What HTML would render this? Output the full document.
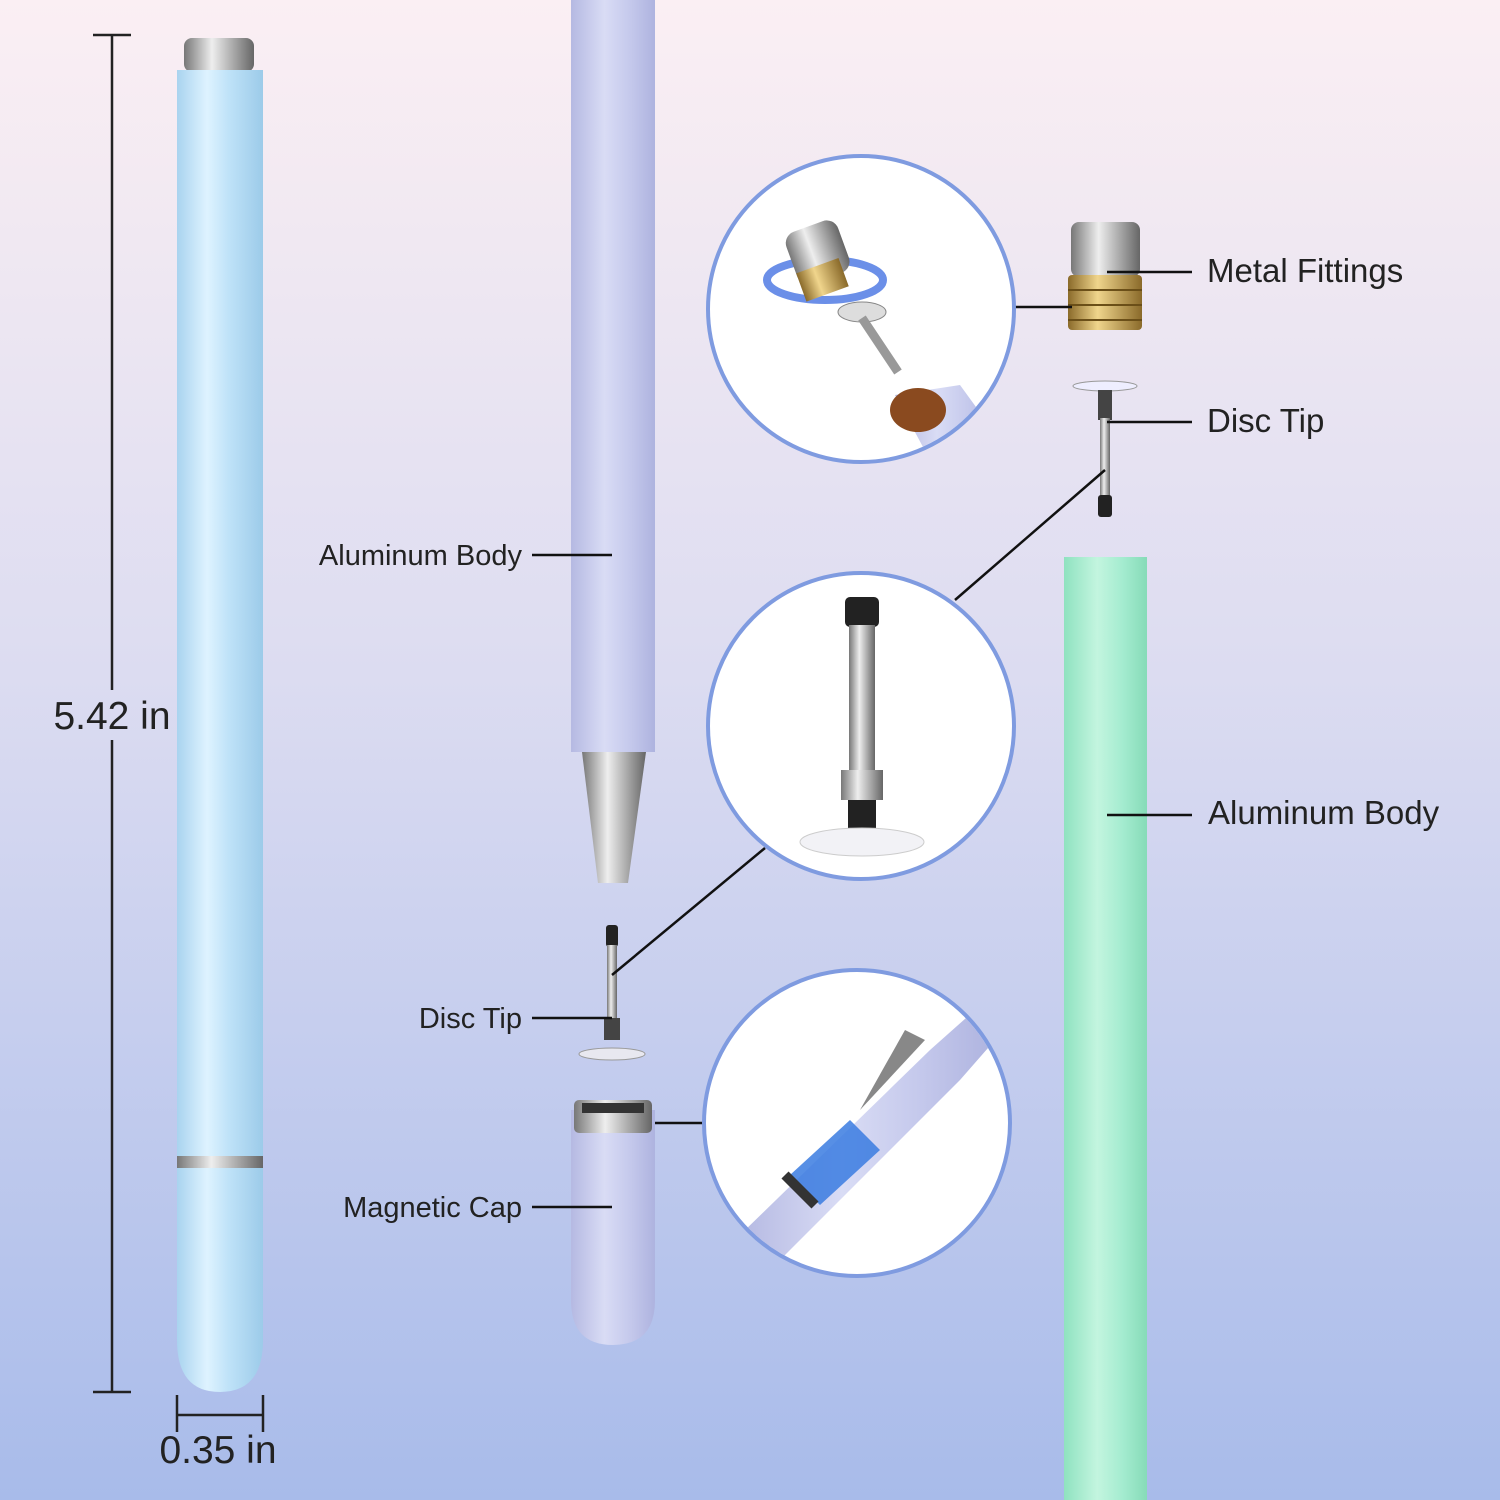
<!DOCTYPE html>
<html><head><meta charset="utf-8"><style>
html,body{margin:0;padding:0;width:1500px;height:1500px;overflow:hidden}
svg{display:block}
text{font-family:"Liberation Sans","DejaVu Sans",sans-serif;fill:#222}
</style></head><body>
<svg width="1500" height="1500" viewBox="0 0 1500 1500" xmlns="http://www.w3.org/2000/svg">
<defs>
<linearGradient id="bg" x1="0" y1="0" x2="0" y2="1">
<stop offset="0" stop-color="#fbeff3"/><stop offset="0.45" stop-color="#dcdcf1"/><stop offset="1" stop-color="#a8bbea"/>
</linearGradient>
<linearGradient id="blue" x1="0" y1="0" x2="1" y2="0">
<stop offset="0" stop-color="#a9d3ef"/><stop offset="0.35" stop-color="#def3ff"/><stop offset="0.6" stop-color="#bfe2f8"/><stop offset="1" stop-color="#9ccbe9"/>
</linearGradient>
<linearGradient id="lav" x1="0" y1="0" x2="1" y2="0">
<stop offset="0" stop-color="#b5b9e2"/><stop offset="0.4" stop-color="#d9dcf5"/><stop offset="0.7" stop-color="#c5c9ec"/><stop offset="1" stop-color="#aeb3df"/>
</linearGradient>
<linearGradient id="grn" x1="0" y1="0" x2="1" y2="0">
<stop offset="0" stop-color="#8fe2c0"/><stop offset="0.4" stop-color="#c3f5df"/><stop offset="0.7" stop-color="#a5ecd0"/><stop offset="1" stop-color="#86dbb8"/>
</linearGradient>
<linearGradient id="sil" x1="0" y1="0" x2="1" y2="0">
<stop offset="0" stop-color="#777"/><stop offset="0.4" stop-color="#eee"/><stop offset="0.7" stop-color="#aaa"/><stop offset="1" stop-color="#666"/>
</linearGradient>
<linearGradient id="gold" x1="0" y1="0" x2="1" y2="0">
<stop offset="0" stop-color="#8a6a2a"/><stop offset="0.4" stop-color="#f0d58c"/><stop offset="1" stop-color="#8a6a2a"/>
</linearGradient>
<clipPath id="c1"><circle cx="861" cy="309" r="151"/></clipPath>
<clipPath id="c3"><circle cx="857" cy="1123" r="151"/></clipPath>
</defs>
<rect width="1500" height="1500" fill="url(#bg)"/>

<g stroke="#222" stroke-width="2.5" fill="none">
<line x1="112" y1="35" x2="112" y2="690"/><line x1="112" y1="740" x2="112" y2="1392"/>
<line x1="93" y1="35" x2="131" y2="35"/><line x1="93" y1="1392" x2="131" y2="1392"/>
<line x1="177" y1="1395" x2="177" y2="1432"/><line x1="263" y1="1395" x2="263" y2="1432"/>
<line x1="177" y1="1415" x2="263" y2="1415"/>
</g>
<text x="112" y="729" font-size="39" text-anchor="middle">5.42 in</text>
<text x="218" y="1463" font-size="39" text-anchor="middle">0.35 in</text>

<rect x="184" y="38" width="70" height="34" rx="8" fill="url(#sil)"/>
<path d="M177 70 H263 V1340 Q263 1392 220 1392 Q177 1392 177 1340 Z" fill="url(#blue)"/>
<rect x="177" y="1156" width="86" height="12" fill="url(#sil)"/>

<rect x="571" y="0" width="84" height="752" fill="url(#lav)"/>
<path d="M582 752 H646 L628 883 H598 Z" fill="url(#sil)"/>

<rect x="606" y="925" width="12" height="22" rx="3" fill="#222"/>
<rect x="607" y="945" width="10" height="95" fill="url(#sil)"/>
<rect x="604" y="1018" width="16" height="22" fill="#444"/>
<ellipse cx="612" cy="1054" rx="33" ry="6" fill="#e8e8f0" stroke="#999" stroke-width="1"/>

<path d="M571 1110 H655 V1300 Q655 1345 613 1345 Q571 1345 571 1300 Z" fill="url(#lav)"/>
<rect x="574" y="1100" width="78" height="33" rx="5" fill="url(#sil)"/>
<rect x="582" y="1103" width="62" height="10" fill="#333"/>

<rect x="1064" y="557" width="83" height="943" fill="url(#grn)"/>

<rect x="1071" y="222" width="69" height="55" rx="8" fill="url(#sil)"/>
<rect x="1068" y="275" width="74" height="55" rx="4" fill="url(#gold)"/>
<g stroke="#6b4f18" stroke-width="2"><line x1="1068" y1="290" x2="1142" y2="290"/><line x1="1068" y1="305" x2="1142" y2="305"/><line x1="1068" y1="320" x2="1142" y2="320"/></g>

<ellipse cx="1105" cy="386" rx="32" ry="5" fill="#eef" stroke="#999" stroke-width="1"/>
<rect x="1098" y="390" width="14" height="30" fill="#444"/>
<rect x="1100" y="418" width="10" height="80" fill="url(#sil)"/>
<rect x="1098" y="495" width="14" height="22" rx="3" fill="#222"/>

<g stroke="#111" stroke-width="2.5">
<line x1="532" y1="555" x2="612" y2="555"/>
<line x1="532" y1="1018" x2="612" y2="1018"/>
<line x1="532" y1="1207" x2="612" y2="1207"/>
<line x1="1015" y1="307" x2="1072" y2="307"/>
<line x1="655" y1="1123" x2="703" y2="1123"/>
<line x1="955" y1="600" x2="1105" y2="470"/>
<line x1="765" y1="848" x2="612" y2="975"/>
<line x1="1107" y1="272" x2="1192" y2="272"/>
<line x1="1107" y1="422" x2="1192" y2="422"/>
<line x1="1107" y1="815" x2="1192" y2="815"/>
</g>

<g fill="#fff">
<circle cx="861" cy="309" r="153"/>
<circle cx="861" cy="726" r="153"/>
<circle cx="857" cy="1123" r="153"/>
</g>
<g clip-path="url(#c1)">
<ellipse cx="825" cy="280" rx="58" ry="20" fill="none" stroke="#6b8fe8" stroke-width="8"/>
<rect x="790" y="225" width="55" height="55" rx="12" fill="url(#sil)" transform="rotate(-20 817 252)"/>
<rect x="800" y="265" width="45" height="30" fill="url(#gold)" transform="rotate(-20 822 280)"/>
<ellipse cx="862" cy="312" rx="24" ry="10" fill="#ddd" stroke="#888"/>
<line x1="862" y1="318" x2="898" y2="372" stroke="#999" stroke-width="9"/>
<path d="M895 395 L960 385 L1000 440 L930 460 Z" fill="url(#lav)"/>
<ellipse cx="918" cy="410" rx="28" ry="22" fill="#8a4a1f"/>
</g>
<rect x="845" y="597" width="34" height="30" rx="5" fill="#222"/>
<rect x="849" y="625" width="26" height="145" fill="url(#sil)"/>
<rect x="841" y="770" width="42" height="30" fill="url(#sil)"/>
<rect x="848" y="800" width="28" height="30" fill="#222"/>
<ellipse cx="862" cy="842" rx="62" ry="14" fill="#f2f2f6" stroke="#ccc"/>
<g clip-path="url(#c3)">
<path d="M740 1235 L930 1050 L975 1010 L995 1040 L960 1080 L775 1265 Z" fill="url(#lav)"/>
<path d="M860 1110 L925 1040 L905 1030 Z" fill="#888"/>
<path d="M790 1175 L850 1120 L880 1150 L820 1205 Z" fill="#3a7be0" opacity="0.85"/>
<path d="M785 1175 L815 1205" stroke="#333" stroke-width="10"/>
</g>
<g fill="none" stroke="#7f9be0" stroke-width="4">
<circle cx="861" cy="309" r="153"/>
<circle cx="861" cy="726" r="153"/>
<circle cx="857" cy="1123" r="153"/>
</g>

<text x="522" y="565" font-size="29" text-anchor="end">Aluminum Body</text>
<text x="522" y="1028" font-size="29" text-anchor="end">Disc Tip</text>
<text x="522" y="1217" font-size="29" text-anchor="end">Magnetic Cap</text>
<text x="1207" y="282" font-size="33">Metal Fittings</text>
<text x="1207" y="432" font-size="33">Disc Tip</text>
<text x="1208" y="824" font-size="33">Aluminum Body</text>
</svg>
</body></html>
